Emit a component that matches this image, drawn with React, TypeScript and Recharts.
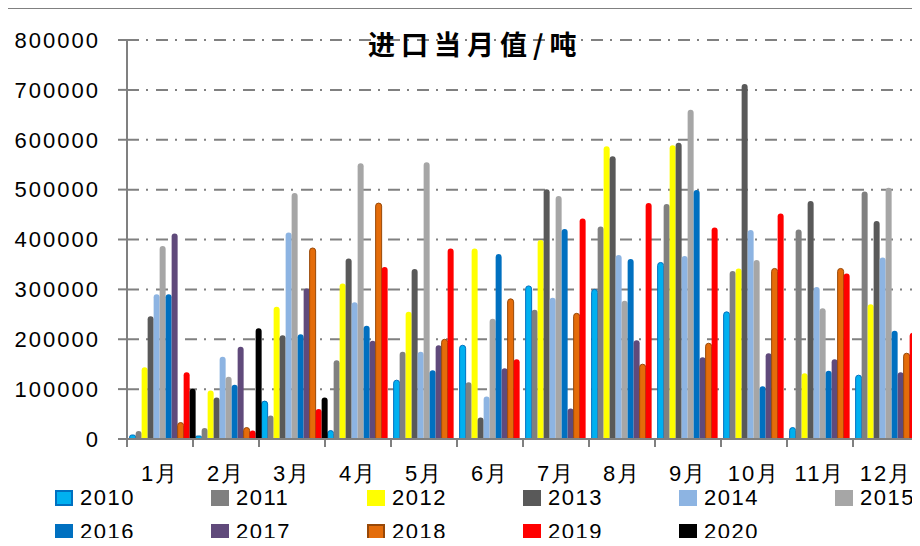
import React from 'react';
import { BarChart, Bar, XAxis, YAxis, CartesianGrid, Legend } from 'recharts';

const months = ['1月', '2月', '3月', '4月', '5月', '6月', '7月', '8月', '9月', '10月', '11月', '12月'];
const yTicks = [0, 100000, 200000, 300000, 400000, 500000, 600000, 700000, 800000];

// 进口当月值（吨），按年份
const y2010 = [8000, 6000, 76000, 17000, 118000, 188000, 307000, 300000, 354000, 255000, 23000, 128000];
const y2011 = [16000, 22000, 47000, 158000, 175000, 114000, 259000, 426000, 471000, 337000, 420000, 496000];
const y2012 = [144000, 97000, 265000, 312000, 255000, 382000, 399000, 587000, 589000, 342000, 132000, 270000];
const y2013 = [246000, 83000, 208000, 362000, 341000, 43000, 501000, 567000, 594000, 712000, 477000, 437000];
const y2014 = [290000, 165000, 414000, 274000, 175000, 85000, 283000, 369000, 367000, 419000, 305000, 364000];
const y2015 = [387000, 125000, 493000, 553000, 555000, 241000, 487000, 277000, 660000, 359000, 262000, 504000];
const y2016 = [290000, 109000, 210000, 227000, 138000, 371000, 421000, 361000, 499000, 106000, 137000, 217000];
const y2017 = [412000, 185000, 302000, 197000, 188000, 142000, 61000, 198000, 164000, 172000, 160000, 134000];
const y2018 = [33000, 23000, 383000, 473000, 200000, 281000, 252000, 150000, 192000, 342000, 342000, 172000];
const y2019 = [134000, 17000, 60000, 345000, 382000, 160000, 442000, 473000, 424000, 452000, 332000, 213000];
const y2020 = [101000, 222000, 83000, null, null, null, null, null, null, null, null, null];

const years = ['2010', '2011', '2012', '2013', '2014', '2015', '2016', '2017', '2018', '2019', '2020'];
const yearValues = [y2010, y2011, y2012, y2013, y2014, y2015, y2016, y2017, y2018, y2019, y2020];
const fills = ['#00B0F0', '#808080', '#FFFF00', '#595959', '#8DB4E2', '#A6A6A6', '#0070C0', '#604A7B', '#E46C0A', '#FF0000', '#000000'];
const strokes: Record<string, string> = { '2010': '#0070C0', '2018': '#984807' };

const data = months.map((m, i) => {
    const row: Record<string, string | number | null> = { name: m };
    years.forEach((y, k) => { row[y] = yearValues[k][i]; });
    return row;
});

const AXIS_COLOR = '#808080';
const AXIS_Y = 439;
const FONT = '"Liberation Sans", Arial, sans-serif';

const MonthTick = (props: any) => {
    const { x, payload, index } = props;
    const half = payload && payload.offset ? payload.offset : 33;
    return (
        <g>
            <line x1={x - half} y1={AXIS_Y} x2={x - half} y2={AXIS_Y + 8} stroke={AXIS_COLOR} strokeWidth={2} />
            {index === months.length - 1 && (
                <line x1={x + half} y1={AXIS_Y} x2={x + half} y2={AXIS_Y + 8} stroke={AXIS_COLOR} strokeWidth={2} />
            )}
            <text x={x} y={AXIS_Y + 42} textAnchor="middle" fill="#000" fontSize={22} fontFamily={FONT} letterSpacing={2}>
                {payload.value}
            </text>
        </g>
    );
};

const YearLegend = () => (
    <div style={{ position: 'relative', width: 920, height: 58, fontFamily: FONT }}>
        {years.map((y, k) => {
            const col = k % 6;
            const row = Math.floor(k / 6);
            return (
                <div
                    key={y}
                    style={{
                        position: 'absolute',
                        left: 55 + col * 156,
                        top: row * 34,
                        display: 'flex',
                        alignItems: 'center',
                        height: 22,
                    }}
                >
                    <span
                        style={{
                            display: 'inline-block',
                            width: 18,
                            height: 16,
                            boxSizing: 'border-box',
                            background: fills[k],
                            border: strokes[y] ? `2px solid ${strokes[y]}` : 'none',
                            marginRight: 7,
                        }}
                    />
                    <span style={{ fontSize: 22, letterSpacing: 1.5, color: '#000', lineHeight: '22px' }}>{y}</span>
                </div>
            );
        })}
    </div>
);

export default function App() {
    return (
        <div style={{ position: 'relative', margin: -8, width: 920, height: 546, overflow: 'hidden', background: '#fff' }}>
            <div style={{ position: 'absolute', left: 0, top: 0, width: 920, height: 0, borderTop: '1px dotted #c8c8c8' }} />
            <div style={{ position: 'absolute', left: 1, top: 0, width: 0, height: 546, borderLeft: '1px dotted #c8c8c8' }} />
            <div
                style={{
                    position: 'absolute',
                    left: 5,
                    top: 7,
                    width: 940,
                    height: 560,
                    borderTop: `2px solid ${AXIS_COLOR}`,
                    borderLeft: `2px solid ${AXIS_COLOR}`,
                }}
            />
            <BarChart
                width={920}
                height={546}
                data={data}
                margin={{ top: 40, right: 1, left: 0, bottom: 77 }}
                barCategoryGap="4%"
                barGap={0}
            >
                <CartesianGrid vertical={false} stroke={AXIS_COLOR} strokeWidth={2} strokeDasharray="12 7 2 8" />
                <XAxis
                    dataKey="name"
                    height={30}
                    stroke={AXIS_COLOR}
                    strokeWidth={2}
                    tickLine={false}
                    tick={<MonthTick />}
                    interval={0}
                />
                <YAxis
                    width={127}
                    domain={[0, 800000]}
                    ticks={yTicks}
                    interval={0}
                    stroke={AXIS_COLOR}
                    strokeWidth={2}
                    tickSize={9}
                    tickMargin={18}
                    tick={{ fill: '#000', fontSize: 22, fontFamily: FONT, letterSpacing: 2 }}
                />
                <Legend
                    layout="horizontal"
                    verticalAlign="middle"
                    align="center"
                    wrapperStyle={{ top: 487, left: 0, width: 920 }}
                    content={<YearLegend />}
                />
                {years.map((y, k) => (
                    <Bar
                        key={y}
                        dataKey={y}
                        name={y}
                        fill={fills[k]}
                        stroke={strokes[y]}
                        strokeWidth={strokes[y] ? 1 : 0}
                        radius={[3, 3, 0, 0]}
                        isAnimationActive={false}
                    />
                ))}
            </BarChart>
            <div
                style={{
                    position: 'absolute',
                    left: 368,
                    top: 27,
                    fontFamily: '"Noto Sans CJK SC", sans-serif',
                    fontWeight: 'bold',
                    fontSize: 27,
                    lineHeight: '34px',
                    letterSpacing: 6,
                    color: '#000',
                    whiteSpace: 'nowrap',
                }}
            >
                进口当月值/吨
            </div>
        </div>
    );
}
